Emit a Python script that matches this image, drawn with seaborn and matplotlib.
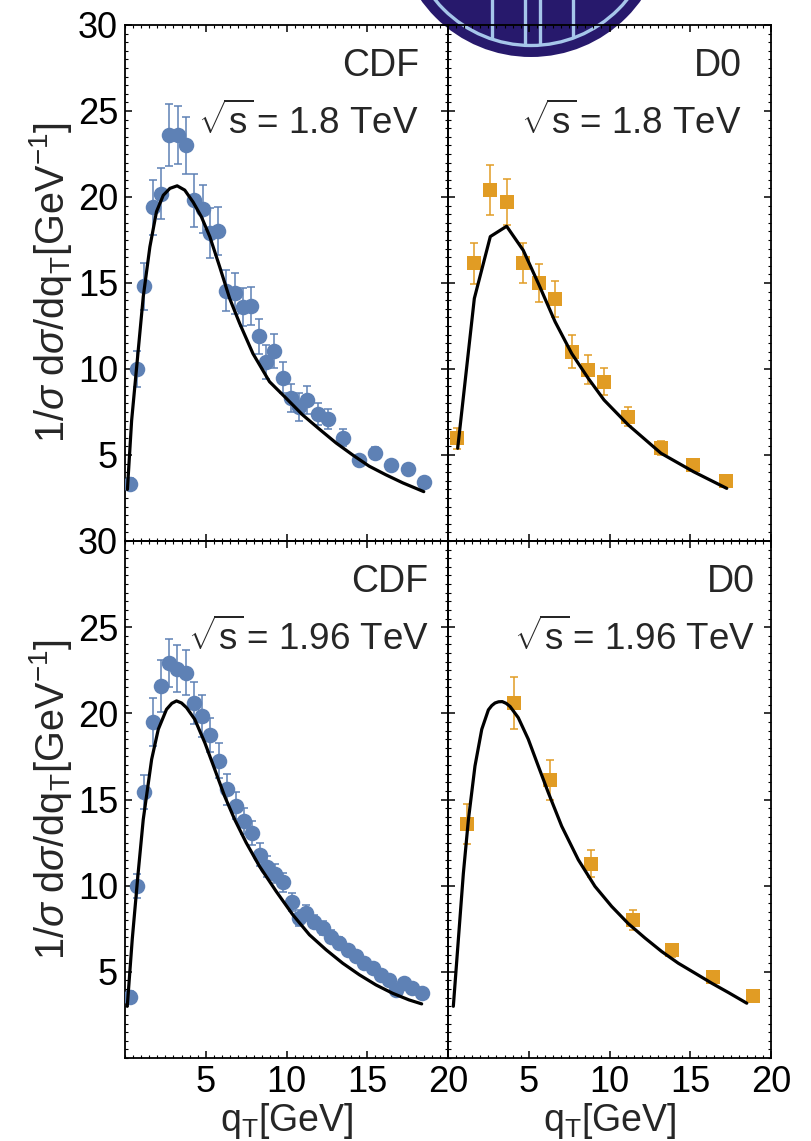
import numpy as np
import pandas as pd
import matplotlib
matplotlib.use("Agg")
import matplotlib.pyplot as plt
import seaborn as sns
from matplotlib.patches import Circle
from matplotlib.lines import Line2D
from matplotlib.ticker import MultipleLocator

# ---------------- data ----------------
# CDF, sqrt(s) = 1.8 TeV
cdf18_qt = [0.3, 0.72, 1.2, 1.72, 2.2, 2.75, 3.27, 3.77, 4.28, 4.83, 5.29, 5.78, 6.25, 6.79,
            7.3, 7.82, 8.29, 8.74, 9.2, 9.77, 10.29, 10.8, 11.3, 11.93, 12.55, 13.5, 14.5,
            15.5, 16.5, 17.5, 18.5]
cdf18_val = [3.3, 10.0, 14.8, 19.4, 20.2, 23.6, 23.6, 23.0, 19.8, 19.3, 17.9, 18.0, 14.55, 14.4,
             13.6, 13.65, 11.9, 10.4, 11.05, 9.5, 8.3, 7.8, 8.2, 7.4, 7.1, 6.0, 4.7,
             5.1, 4.4, 4.2, 3.45]
cdf18_err = [0.35, 1.05, 1.35, 1.6, 1.5, 1.8, 1.7, 1.65, 1.55, 1.4, 1.45, 1.4, 1.2, 1.2,
             1.1, 1.1, 1.0, 1.0, 1.0, 0.9, 0.8, 0.8, 0.8, 0.65, 0.6, 0.5, 0.3,
             0.35, 0.3, 0.3, 0.25]
cdf18_th_qt = [0.15, 0.41, 0.72, 1.13, 1.54, 1.95, 2.37, 2.78, 3.23, 3.7, 4.22, 4.73, 5.25,
               5.86, 6.48, 7.1, 7.92, 8.95, 9.98, 11.0, 12.04, 13.07, 14.1, 15.12, 16.15,
               17.2, 18.5]
cdf18_th = [3.0, 7.0, 10.1, 14.2, 17.1, 19.15, 20.1, 20.5, 20.65, 20.4, 19.7, 18.85, 17.7,
            15.95, 14.1, 12.65, 10.9, 9.26, 8.3, 7.33, 6.5, 5.7, 5.0, 4.35, 3.85,
            3.38, 2.87]

# D0, sqrt(s) = 1.8 TeV
d018_qt = [0.54, 1.63, 2.62, 3.63, 4.63, 5.63, 6.63, 7.66, 8.65, 9.66, 11.16, 13.19, 15.2, 17.2]
d018_val = [5.97, 16.15, 20.4, 19.7, 16.15, 15.0, 14.05, 11.0, 9.95, 9.27, 7.23, 5.39, 4.42, 3.49]
d018_err = [0.6, 1.2, 1.45, 1.35, 1.15, 1.1, 1.05, 0.95, 0.85, 0.8, 0.55, 0.4, 0.3, 0.2]
d018_th_qt = [0.6, 1.63, 2.62, 3.63, 4.66, 5.63, 6.63, 7.66, 8.69, 9.66, 11.16, 13.19, 15.2, 17.26]
d018_th = [5.39, 14.1, 17.7, 18.3, 16.9, 14.9, 12.75, 10.9, 9.45, 8.2, 6.75, 5.1, 4.03, 3.06]

# CDF, sqrt(s) = 1.96 TeV
cdf196_qt = [0.31, 0.76, 1.2, 1.73, 2.22, 2.7, 3.22, 3.77, 4.29, 4.79, 5.27, 5.79, 6.3, 6.86,
             7.35, 7.86, 8.38, 8.8, 9.3, 9.78, 10.35, 10.8, 11.2, 11.73, 12.24, 12.76, 13.27,
             13.78, 14.3, 14.81, 15.33, 15.84, 16.36, 16.77, 17.28, 17.8, 18.37]
cdf196_val = [3.56, 10.0, 15.45, 19.5, 21.6, 22.9, 22.6, 22.35, 20.6, 19.85, 18.75, 17.25, 15.6,
              14.65, 13.75, 13.05, 11.8, 11.1, 10.7, 10.2, 9.05, 8.12, 8.41, 7.92, 7.54, 7.05,
              6.67, 6.28, 5.89, 5.5, 5.21, 4.83, 4.53, 3.95, 4.34, 4.05, 3.76]
cdf196_err = [0.3, 0.7, 1.0, 1.4, 1.5, 1.4, 1.35, 1.3, 1.2, 1.2, 1.0, 1.0, 0.9, 0.8, 0.75, 0.7,
              0.65, 0.6, 0.55, 0.55, 0.5, 0.45, 0.45, 0.4, 0.4, 0.35, 0.35, 0.3, 0.3, 0.3, 0.25,
              0.25, 0.25, 0.2, 0.2, 0.2, 0.2]
cdf196_th_qt = [0.14, 0.45, 0.8, 1.13, 1.65, 2.06, 2.57, 2.9, 3.19, 3.5, 3.81, 4.32, 4.94,
                5.56, 6.17, 6.79, 7.5, 8.33, 9.36, 10.39, 11.42, 12.45, 13.48, 14.51, 15.54,
                16.56, 17.59, 18.37]
cdf196_th = [3.0, 6.9, 10.6, 13.84, 17.33, 19.07, 20.23, 20.58, 20.72, 20.6, 20.33, 19.65, 18.3,
             16.74, 15.19, 13.84, 12.5, 11.12, 9.67, 8.31, 7.15, 6.28, 5.5, 4.83, 4.24, 3.76,
             3.37, 3.14]

# D0, sqrt(s) = 1.96 TeV
d0196_qt = [1.2, 4.1, 6.33, 8.83, 11.47, 13.89, 16.39, 18.91]
d0196_val = [13.58, 20.6, 16.15, 11.28, 8.0, 6.24, 4.69, 3.6]
d0196_err = [1.15, 1.5, 1.17, 0.8, 0.6, 0.4, 0.25, 0.15]
d0196_th_qt = [0.33, 0.64, 0.95, 1.26, 1.67, 2.09, 2.5, 2.71, 2.91, 3.13, 3.36, 3.6, 3.84,
               4.35, 4.97, 5.59, 6.21, 7.04, 8.07, 9.1, 10.13, 11.16, 12.2, 13.23, 14.26,
               15.3, 16.33, 17.36, 18.5]
d0196_th = [3.0, 6.86, 10.7, 13.8, 16.94, 19.07, 20.2, 20.45, 20.6, 20.67, 20.68, 20.58, 20.4,
            19.75, 18.5, 16.94, 15.4, 13.45, 11.5, 9.96, 8.8, 7.8, 6.96, 6.18, 5.5, 4.92,
            4.34, 3.8, 3.18]

experiments = ["CDF", "D0", "CDF", "D0"]
energies = ["1.8", "1.8", "1.96", "1.96"]
y_ticks = [5, 10, 15, 20, 25, 30]
x_ticks = [5, 10, 15, 20]

BLUE = "#5e81b5"
ORANGE = "#e19c24"

# ---------------- style ----------------
sns.set_theme(style="ticks")
plt.rcParams["font.family"] = ["Liberation Sans", "DejaVu Sans"]
plt.rcParams.update({
    "mathtext.fontset": "custom",
    "mathtext.rm": "Liberation Sans",
    "mathtext.it": "Liberation Sans:italic",
    "mathtext.bf": "Liberation Sans:bold",
    "axes.linewidth": 1.3,
    "axes.edgecolor": "black",
    "xtick.color": "black",
    "ytick.color": "black",
})

W, H = 811, 1141
fig = plt.figure(figsize=(W / 100, H / 100), dpi=100)
fig.patch.set_facecolor("white")

x0, xm, x1 = 125, 448, 771
y0, ym, y1 = 25, 541, 1058


def box(px_l, px_r, py_t, py_b):
    return [px_l / W, 1 - py_b / H, (px_r - px_l) / W, (py_b - py_t) / H]


ax_tl = fig.add_axes(box(x0, xm, y0, ym))
ax_tr = fig.add_axes(box(xm, x1, y0, ym))
ax_bl = fig.add_axes(box(x0, xm, ym, y1))
ax_br = fig.add_axes(box(xm, x1, ym, y1))

# logo partially above the top panels
logo_c = (5.31, (H + 78) / 100)
dark = Circle(logo_c, 1.35, transform=fig.dpi_scale_trans, facecolor="#27196c",
              edgecolor="none", zorder=-2)
fig.add_artist(dark)
inner = Circle(logo_c, 1.235, transform=fig.dpi_scale_trans, facecolor="none",
               edgecolor="#a6c6ea", linewidth=2.4, zorder=-1)
fig.add_artist(inner)
clip = Circle(logo_c, 1.235, transform=fig.dpi_scale_trans, facecolor="none", edgecolor="none")
fig.add_artist(clip)
clip.set_visible(False)
for xl in [4.92, 5.25, 5.40, 5.73]:
    ln = Line2D([xl, xl], [H / 100 - 3, H / 100 + 1], transform=fig.dpi_scale_trans,
                color="#a6c6ea", linewidth=2.4, zorder=-1)
    ln.set_clip_path(clip)
    fig.add_artist(ln)

panels = [
    (ax_tl, cdf18_qt, cdf18_val, cdf18_err, cdf18_th_qt, cdf18_th, "o", BLUE),
    (ax_tr, d018_qt, d018_val, d018_err, d018_th_qt, d018_th, "s", ORANGE),
    (ax_bl, cdf196_qt, cdf196_val, cdf196_err, cdf196_th_qt, cdf196_th, "o", BLUE),
    (ax_br, d0196_qt, d0196_val, d0196_err, d0196_th_qt, d0196_th, "s", ORANGE),
]

text_x = [0.91, 0.91, 0.94, 0.95]

for i, (ax, qt, val, err, tq, th, mk, col) in enumerate(panels):
    ax.set_facecolor("none")
    ax.errorbar(qt, val, yerr=err, fmt="none", ecolor=col, elinewidth=1.1,
                capsize=2.8, capthick=1.1, zorder=2)
    df = pd.DataFrame({"qT": qt, "val": val})
    sns.scatterplot(data=df, x="qT", y="val", ax=ax, marker=mk, color=col,
                    s=125 if mk == "o" else 95, linewidth=0, zorder=3, legend=False)
    dft = pd.DataFrame({"qT": tq, "th": th})
    sns.lineplot(data=dft, x="qT", y="th", ax=ax, color="black", linewidth=2.3,
                 sort=False, zorder=4, legend=False)
    ax.set_xlim(0, 20)
    ax.set_ylim(0, 30)
    ax.set_xticks(x_ticks)
    ax.set_yticks(y_ticks)
    ax.xaxis.set_minor_locator(MultipleLocator(0.5))
    ax.yaxis.set_minor_locator(MultipleLocator(0.5))
    ax.tick_params(which="both", direction="in", top=True, right=True, bottom=True, left=True)
    ax.tick_params(which="major", length=5, width=1.1, labelsize=26, pad=5)
    ax.tick_params(which="minor", length=2.2, width=0.8)
    for sp in ax.spines.values():
        sp.set_visible(True)
        sp.set_linewidth(1.3)
    ax.set_xlabel("")
    ax.set_ylabel("")
    if i in (1, 3):
        ax.tick_params(labelleft=False)
    if i in (0, 1):
        ax.tick_params(labelbottom=False)
    ax.text(text_x[i], 0.92, experiments[i], transform=ax.transAxes, ha="right",
            va="center", fontsize=27)
    ax.text(text_x[i], 0.812, r"$\sqrt{\mathrm{s}}\!$ = " + energies[i] + " TeV",
            transform=ax.transAxes, ha="right", va="center", fontsize=26.5)

for ax in (ax_tl, ax_bl):
    ax.set_ylabel(r"1/$\sigma$ d$\sigma$/dq$_{\mathrm{T}}$[GeV$^{-1}$]", fontsize=28.5,
                  labelpad=3)
for ax in (ax_bl, ax_br):
    ax.set_xlabel(r"q$_{\mathrm{T}}$[GeV]", fontsize=27, labelpad=1)

fig.savefig("out.png", dpi=100, facecolor="white")
